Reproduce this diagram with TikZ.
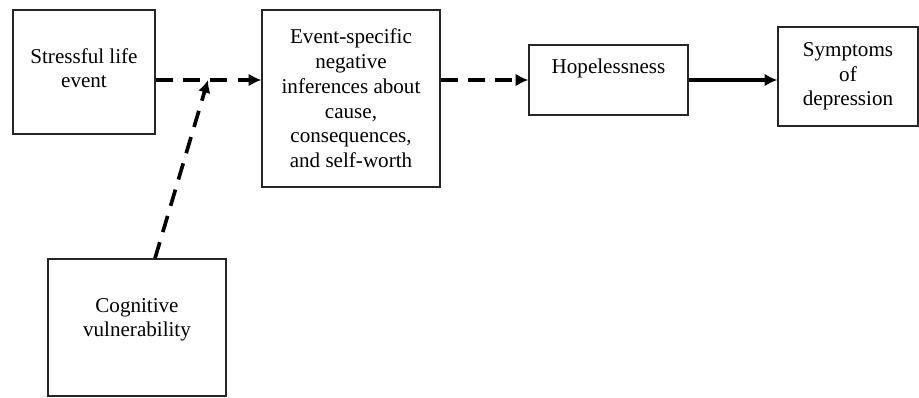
\documentclass[tikz,border=0pt]{standalone}
\usepackage{fontspec}
\setmainfont{Liberation Serif}
\usetikzlibrary{positioning,calc,arrows.meta}

\tikzset{
  box/.style={draw=black!85, line width=0.9pt, align=center, inner sep=2pt,
    font=\fontsize{15}{17.6}\selectfont},
  dashlink/.style={line width=2.6pt, dash pattern=on 12pt off 7.5pt, -{Latex[length=9pt,width=9pt]}},
  solidlink/.style={line width=2.6pt, -{Latex[length=9pt,width=9pt]}}
}

\begin{document}
\begin{tikzpicture}
  \useasboundingbox (0,0) rectangle (22.975,-9.925);

  % Boxes
  \node[box, minimum width=3.55cm, minimum height=3.1cm, text depth=0.2cm] (stress) at (2.1,-1.8) {Stressful life\\event};
  \node[box, minimum width=4.45cm, minimum height=4.425cm] (infer) at (8.775,-2.4625)
    {Event-specific\\negative\\inferences about\\cause,\\consequences,\\and self-worth};
  \node[box, minimum width=3.975cm, minimum height=1.75cm, text depth=0.7cm] (hope) at (15.2125,-2.0) {Hopelessness};
  \node[box, minimum width=3.5cm, minimum height=2.475cm] (sympt) at (21.2,-1.9125) {Symptoms\\of\\depression};
  \node[box, minimum width=4.45cm, minimum height=3.425cm, text depth=0.5cm] (cogn) at (3.425,-8.1875) {Cognitive\\vulnerability};

  % Links along the chain
  \coordinate (join) at (5.2,-2.0);
  \draw[dashlink] (stress.east |- hope.west) -- (infer.west |- hope.west);
  \draw[dashlink] (infer.east |- hope.west) -- (hope.west);
  \draw[solidlink] (hope.east) -- (sympt.west |- hope.east);

  % Vulnerability feeds the stress path
  \draw[dashlink] ($(cogn.north)+(0.45,0)$) -- (join);
\end{tikzpicture}
\end{document}
